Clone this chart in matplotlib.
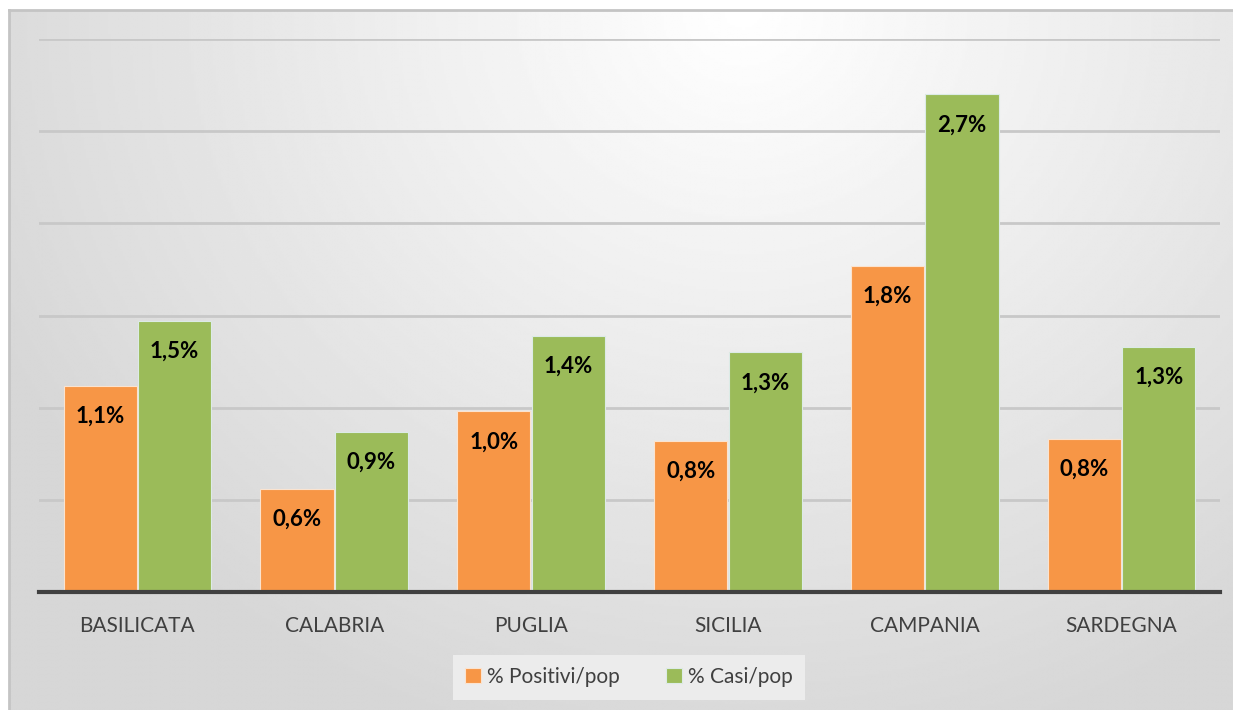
import matplotlib
matplotlib.use('Agg')
import matplotlib.pyplot as plt
import numpy as np

plt.rcParams['font.family'] = ['Lato', 'DejaVu Sans']

regioni = ['BASILICATA', 'CALABRIA', 'PUGLIA', 'SICILIA', 'CAMPANIA', 'SARDEGNA']
positivi_pop = [1.12, 0.56, 0.98, 0.82, 1.77, 0.83]
casi_pop = [1.47, 0.87, 1.39, 1.30, 2.70, 1.33]
etichette_positivi = ['1,1%', '0,6%', '1,0%', '0,8%', '1,8%', '0,8%']
etichette_casi = ['1,5%', '0,9%', '1,4%', '1,3%', '2,7%', '1,3%']
serie = ['% Positivi/pop', '% Casi/pop']

W, H = 1233, 710
fig = plt.figure(figsize=(W / 100, H / 100), dpi=100)
fig.patch.set_facecolor('white')

# sfondo con gradiente radiale
bg = fig.add_axes([9 / W, 0, (W - 9) / W, (H - 10) / H])
yy, xx = np.mgrid[0:1:300j, 0:1:500j]
d = np.sqrt(((xx - 0.6) * 1.6) ** 2 + (yy * 1.0) ** 2)
val = 1.0 - 0.16 * np.clip(d / 1.1, 0, 1)
bg.imshow(val, cmap='gray', vmin=0, vmax=1, aspect='auto',
          extent=[0, 1, 1, 0], interpolation='bilinear')
bg.set_xlim(0, 1)
bg.set_ylim(1, 0)
bg.set_xticks([])
bg.set_yticks([])
for s in ['right', 'bottom']:
    bg.spines[s].set_visible(False)
for s in ['left', 'top']:
    bg.spines[s].set_color('#c4c4c4')
    bg.spines[s].set_linewidth(2)

ax = fig.add_axes([39 / W, (H - 592) / H, 1181 / W, 553 / H])
ax.patch.set_alpha(0)
x = np.arange(len(regioni))
w = 0.372
b1 = ax.bar(x - w / 2 - 0.003, positivi_pop, w, color='#f79646',
            edgecolor='#fbe3cf', linewidth=0.8, zorder=3)
b2 = ax.bar(x + w / 2 + 0.003, casi_pop, w, color='#9bbb59',
            edgecolor='#dcebe6', linewidth=0.8, zorder=3)

for bars, labs in [(b1, etichette_positivi), (b2, etichette_casi)]:
    for r, t in zip(bars, labs):
        ax.annotate(t, (r.get_x() + r.get_width() / 2, r.get_height()),
                    xytext=(0, -22), textcoords='offset points',
                    ha='center', va='center', fontsize=16,
                    fontweight='bold', color='black', zorder=4)

ax.set_xlim(-0.5, 5.5)
ax.set_ylim(0, 3.0)
ax.set_yticks(np.arange(0.5, 3.01, 0.5))
ax.yaxis.grid(True, color='#c8c8c8', linewidth=2, zorder=0)
ax.set_yticklabels([])
ax.tick_params(axis='y', length=0)
ax.set_xticks(x)
ax.set_xticklabels(regioni, fontsize=15, color='#404040')
ax.tick_params(axis='x', length=0, pad=17)
for s in ['left', 'right', 'top']:
    ax.spines[s].set_visible(False)
ax.spines['bottom'].set_color('#404040')
ax.spines['bottom'].set_linewidth(3)
ax.spines['bottom'].set_zorder(5)

leg = fig.legend([b1, b2], serie, loc='center',
                 bbox_to_anchor=(629 / W, 1 - 677 / H), ncol=2,
                 fontsize=15, frameon=True, fancybox=False,
                 handlelength=0.75, handleheight=0.75, handletextpad=0.3,
                 columnspacing=2.2, borderpad=0.6)
leg.get_frame().set_facecolor('#ececec')
leg.get_frame().set_edgecolor('none')
leg.get_frame().set_alpha(1)
for t in leg.get_texts():
    t.set_color('#404040')

fig.savefig('out.png', dpi=100)
